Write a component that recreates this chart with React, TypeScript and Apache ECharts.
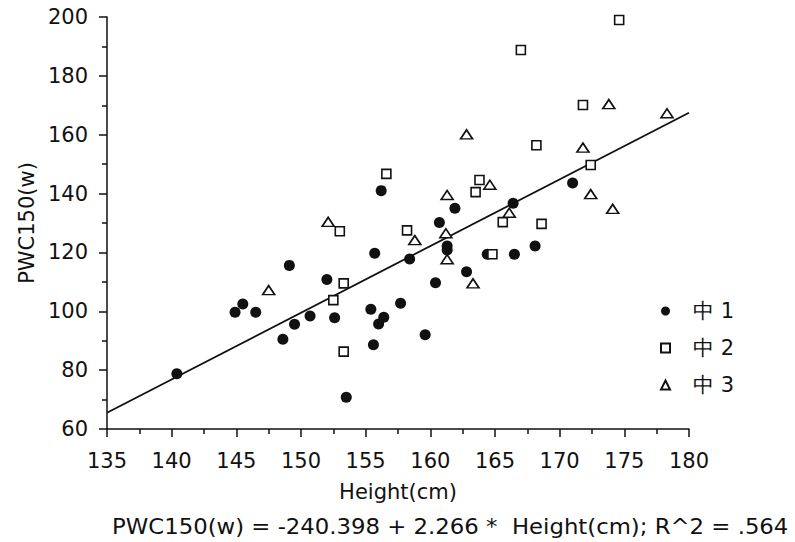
import React, { useEffect, useRef } from "react";
import * as echarts from "echarts";

// Height (cm) and PWC150 (w) for each school group
const school1Height = [140.4, 144.9, 145.5, 146.5, 148.6, 149.1, 149.5, 150.7, 152.0, 152.6, 153.5, 155.4, 155.6, 155.7, 156.0, 156.2, 156.4, 157.7, 158.4, 159.6, 160.4, 160.7, 161.3, 161.3, 161.9, 162.8, 164.4, 166.4, 166.5, 168.1, 171.0];
const school1Pwc = [78.8, 99.7, 102.5, 99.7, 90.5, 115.6, 95.6, 98.4, 110.8, 97.8, 70.8, 100.7, 88.6, 119.7, 95.7, 141.0, 98.0, 102.7, 117.8, 92.0, 109.7, 130.2, 122.2, 120.8, 135.0, 113.4, 119.4, 136.7, 119.4, 122.2, 143.6];

const school2Height = [152.5, 153.0, 153.3, 153.3, 156.6, 158.2, 163.5, 163.8, 164.8, 165.6, 167.0, 168.2, 168.6, 171.8, 172.4, 174.6];
const school2Pwc = [103.8, 127.2, 109.5, 86.3, 146.7, 127.5, 140.5, 144.6, 119.4, 130.3, 188.8, 156.4, 129.7, 170.1, 149.7, 199.0];

const school3Height = [147.5, 152.1, 158.8, 161.2, 161.3, 161.3, 162.8, 163.3, 164.6, 166.1, 171.8, 172.4, 173.8, 174.1, 178.3];
const school3Pwc = [107.2, 130.4, 124.2, 126.5, 117.7, 139.5, 160.1, 109.5, 143.0, 133.5, 155.6, 139.8, 170.4, 134.8, 167.3];

const groupNames = ["中1", "中2", "中3"];

// Fitted regression: PWC150 = intercept + slope * height
const intercept = -240.398;
const slope = 2.266;
const rSquared = ".564";
const fitRange = [135, 180];

const xTicks = { min: 135, max: 180, interval: 5 };
const yTicks = { min: 60, max: 200, interval: 20 };

const INK = "#111";
const FONT = "DejaVu Sans";

const pair = (xs: number[], ys: number[]) => xs.map((x, i) => [x, ys[i]]);

export default function App() {
  const ref = useRef<HTMLDivElement>(null);

  useEffect(() => {
    if (!ref.current) return;
    const chart = echarts.init(ref.current, null, { renderer: "svg" });

    const fitLine = fitRange.map((x) => [x, intercept + slope * x]);
    const equation = `PWC150(w) = ${intercept.toFixed(3)} + ${slope.toFixed(3)} *  Height(cm); R^2 = ${rSquared}`;

    chart.setOption({
      animation: false,
      backgroundColor: "#fff",
      textStyle: { fontFamily: FONT, color: INK },
      grid: { left: 107, top: 17, width: 582, height: 412 },
      xAxis: {
        type: "value",
        min: xTicks.min,
        max: xTicks.max,
        interval: xTicks.interval,
        name: "Height(cm)",
        nameLocation: "middle",
        nameGap: 52,
        nameTextStyle: { fontFamily: FONT, fontSize: 21, color: INK },
        axisLine: { lineStyle: { color: INK, width: 1.5 } },
        axisTick: { length: 8, lineStyle: { color: INK, width: 1.5 } },
        minorTick: { show: true, splitNumber: 2, length: 5, lineStyle: { color: INK, width: 1.5 } },
        axisLabel: { fontFamily: FONT, fontSize: 21, color: INK, margin: 21 },
        splitLine: { show: false },
      },
      yAxis: {
        type: "value",
        min: yTicks.min,
        max: yTicks.max,
        interval: yTicks.interval,
        name: "PWC150(w)",
        nameLocation: "middle",
        nameGap: 69,
        nameTextStyle: { fontFamily: FONT, fontSize: 21, color: INK },
        axisLine: { show: true, lineStyle: { color: INK, width: 1.5 } },
        axisTick: { show: true, length: 8, lineStyle: { color: INK, width: 1.5 } },
        minorTick: { show: true, splitNumber: 2, length: 5, lineStyle: { color: INK, width: 1.5 } },
        axisLabel: { fontFamily: FONT, fontSize: 21, color: INK, margin: 19 },
        splitLine: { show: false },
      },
      legend: {
        orient: "vertical",
        left: 655,
        top: 295,
        itemWidth: 9,
        itemHeight: 9,
        itemGap: 15,
        data: groupNames,
        formatter: (name: string) => name.replace("中", "中 "),
        textStyle: { fontFamily: FONT, fontSize: 21, color: INK, lineHeight: 22, padding: [0, 0, 0, 18] },
      },
      series: [
        {
          name: "fit",
          type: "line",
          data: fitLine,
          symbol: "none",
          silent: true,
          lineStyle: { color: INK, width: 1.8 },
          z: 1,
        },
        {
          name: groupNames[0],
          type: "scatter",
          data: pair(school1Height, school1Pwc),
          symbol: "circle",
          symbolSize: 11,
          itemStyle: { color: INK, opacity: 1 },
          z: 3,
        },
        {
          name: groupNames[1],
          type: "scatter",
          data: pair(school2Height, school2Pwc),
          symbol: "rect",
          symbolSize: 9,
          itemStyle: { color: "#fff", borderColor: INK, borderWidth: 1.6, opacity: 1 },
          z: 3,
        },
        {
          name: groupNames[2],
          type: "scatter",
          data: pair(school3Height, school3Pwc),
          symbol: "triangle",
          symbolSize: [12, 9],
          itemStyle: { color: "#fff", borderColor: INK, borderWidth: 1.6, opacity: 1 },
          z: 3,
        },
      ],
      graphic: [
        {
          type: "text",
          x: 112,
          y: 516,
          scaleX: 1.085,
          style: { text: equation, font: `21px "${FONT}"`, fill: INK },
        },
      ],
    });

    return () => chart.dispose();
  }, []);

  return <div ref={ref} style={{ position: "fixed", left: 0, top: 0, width: 795, height: 542 }} />;
}
